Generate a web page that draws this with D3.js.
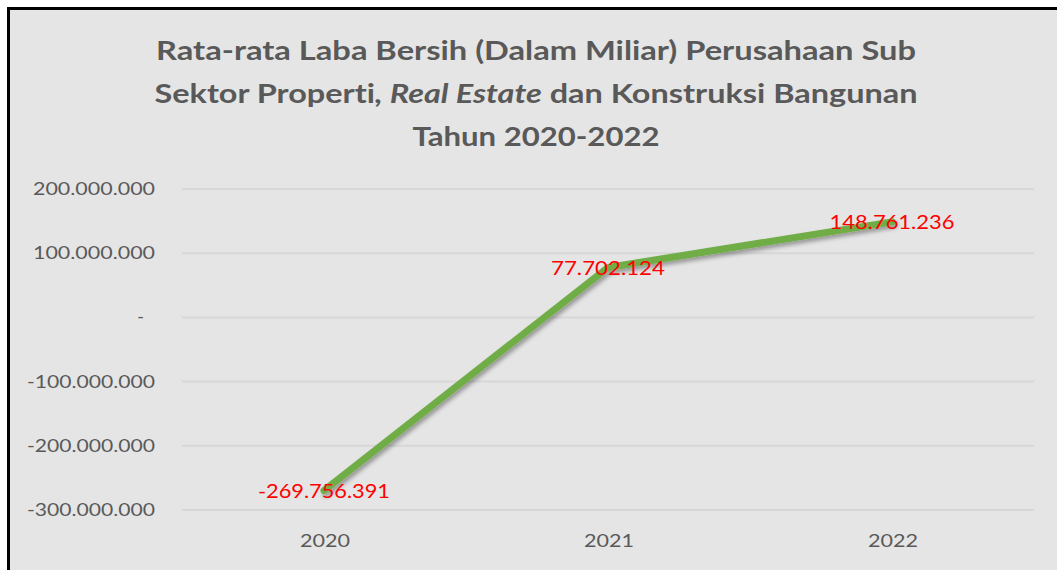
<!DOCTYPE html>
<html>
<head>
<meta charset="utf-8">
<script src="https://cdn.jsdelivr.net/npm/d3@7"></script>
<style>
  body { margin: 0; background: #ffffff; }
  svg { display: block; }
  text { font-variant-ligatures: none; }
</style>
</head>
<body>
<div id="chart"></div>
<script>
// data
var years = ["2020", "2021", "2022"];
var labaBersih = [-269756391, 77702124, 148761236];
var yTicks = [200000000, 100000000, 0, -100000000, -200000000, -300000000];
var titleLines = [
  [{ t: "Rata-rata Laba Bersih (Dalam Miliar) Perusahaan Sub", i: false }],
  [{ t: "Sektor Properti", i: false }, { t: ", Real Estate", i: true }, { t: " dan Konstruksi Bangunan", i: false }],
  [{ t: "Tahun 2020-2022", i: false }]
];

var W = 1057, H = 570;
var font = "Lato, 'Open Sans', sans-serif";

var svg = d3.select("#chart")
  .append("svg")
  .attr("width", W)
  .attr("height", H);

// drop shadow for the line
var defs = svg.append("defs");
defs.append("filter")
  .attr("id", "shadow")
  .attr("x", "-10%").attr("y", "-10%")
  .attr("width", "130%").attr("height", "130%")
  .append("feDropShadow")
  .attr("dx", 2).attr("dy", 3)
  .attr("stdDeviation", 2)
  .attr("flood-color", "#000")
  .attr("flood-opacity", 0.35);

// background + border (only left/top visible)
svg.append("rect")
  .attr("x", 8.5).attr("y", 8.5)
  .attr("width", W + 20).attr("height", H + 20)
  .attr("fill", "#e5e5e5")
  .attr("stroke", "#000")
  .attr("stroke-width", 3);

// title
var titleBase = [60, 103, 146];
var titleWidth = [760, 763, 247];
titleLines.forEach(function (parts, k) {
  var t = svg.append("text")
    .attr("x", 536)
    .attr("y", titleBase[k])
    .attr("text-anchor", "middle")
    .attr("fill", "#595959")
    .style("font-family", font)
    .style("font-weight", "bold")
    .style("font-size", "27px")
    .attr("textLength", titleWidth[k])
    .attr("lengthAdjust", "spacingAndGlyphs");
  parts.forEach(function (p) {
    var s = t.append("tspan").text(p.t);
    if (p.i) s.style("font-style", "italic");
  });
});

// scales
var x = d3.scalePoint()
  .domain(years)
  .range([182, 1034])
  .padding(0.5);

var y = d3.scaleLinear()
  .domain([-300000000, 200000000])
  .range([510, 189]);

// Indonesian style: dots as thousand separator, plain hyphen for minus
var fmt = function (v) {
  if (v === 0) return "-";
  return d3.format(",")(v).replace(/,/g, ".").replace("\u2212", "-");
};

// gridlines
svg.append("g")
  .selectAll("line")
  .data(yTicks)
  .join("line")
  .attr("x1", 182).attr("x2", 1034)
  .attr("y1", function (d) { return y(d); })
  .attr("y2", function (d) { return y(d); })
  .attr("stroke", "#d7d7d7")
  .attr("stroke-width", 2);

// y axis labels
svg.append("g")
  .selectAll("text")
  .data(yTicks)
  .join("text")
  .attr("x", function (d) { return d === 0 ? 144 : 155; })
  .attr("y", function (d) { return y(d) + 6; })
  .attr("text-anchor", "end")
  .attr("fill", "#595959")
  .style("font-family", font)
  .style("font-size", "18px")
  .attr("textLength", function (d) { return d === 0 ? null : (d < 0 ? 128 : 122); })
  .attr("lengthAdjust", "spacingAndGlyphs")
  .text(fmt);

// x axis labels
svg.append("g")
  .selectAll("text")
  .data(years)
  .join("text")
  .attr("x", function (d) { return x(d) + 1; })
  .attr("y", 547)
  .attr("text-anchor", "middle")
  .attr("fill", "#595959")
  .style("font-family", font)
  .style("font-size", "18px")
  .attr("textLength", 50)
  .attr("lengthAdjust", "spacingAndGlyphs")
  .text(function (d) { return d; });

// line
var pts = years.map(function (d, i) { return { year: d, v: labaBersih[i] }; });
svg.append("path")
  .datum(pts)
  .attr("fill", "none")
  .attr("stroke", "#70ad47")
  .attr("stroke-width", 7)
  .attr("stroke-linecap", "round")
  .attr("stroke-linejoin", "round")
  .attr("filter", "url(#shadow)")
  .attr("d", d3.line()
    .x(function (d) { return x(d.year); })
    .y(function (d) { return y(d.v); }));

// data labels
svg.append("g")
  .selectAll("text")
  .data(pts)
  .join("text")
  .attr("x", function (d) { return x(d.year); })
  .attr("y", function (d) { return y(d.v) + 7; })
  .attr("text-anchor", "middle")
  .attr("fill", "#ff0000")
  .style("font-family", font)
  .style("font-size", "19px")
  .attr("textLength", function (d) { return d.v < 0 ? 132 : (d.v > 100000000 ? 125 : 114); })
  .attr("lengthAdjust", "spacingAndGlyphs")
  .text(function (d) { return fmt(d.v); });
</script>
</body>
</html>
